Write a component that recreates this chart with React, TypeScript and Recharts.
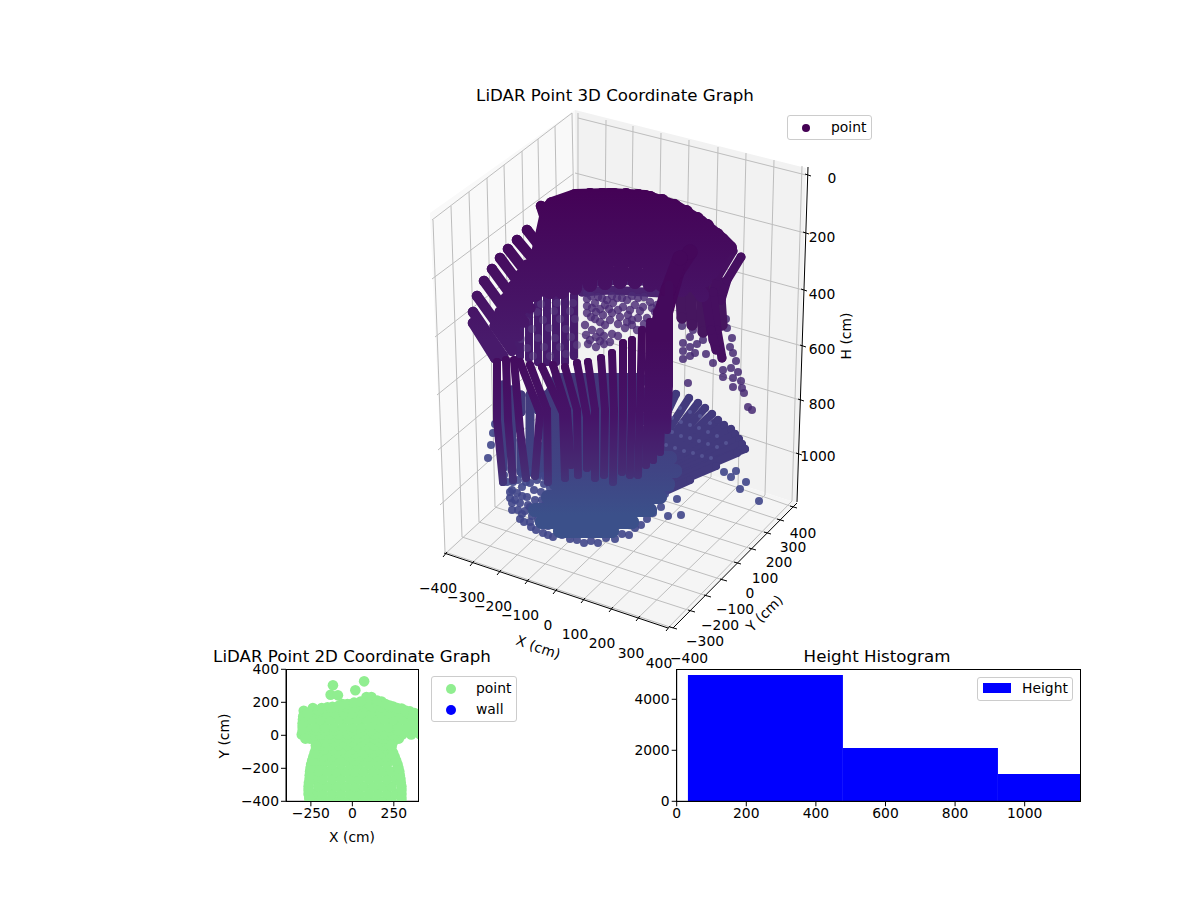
import React from 'react';
import { ScatterChart, Scatter, XAxis, YAxis, ReferenceLine, ReferenceArea, BarChart, Bar } from 'recharts';

type P = [number, number];
const FONT = '"DejaVu Sans", sans-serif';

/* ---------- 3D panel: values are view-plane readings of the projected cloud ---------- */
const paneLeft: P[] = [[430, 213], [575, 110], [578, 432], [445, 552]];
const paneBack: P[] = [[575, 110], [806, 168], [797, 503], [578, 432]];
const paneFloor: P[] = [[445, 552], [578, 432], [797, 503], [670, 630]];

const gridLeftWallV: number[][] = [[433,220,445,552],[451,206,462,537],[469,192,479,522],[487,178,495,507],[504,165,512,492],[522,151,528,478],[538,139,544,463],[555,126,561,448],[572,113,578,432]];
const gridBackWallV: number[][] = [[578,113,578,432],[606,120,603,441],[633,126,629,450],[661,133,656,459],[689,140,683,468],[718,147,711,477],[746,153,738,486],[774,160,765,495],[802,166,792,501]];
const gridLeftWallH: number[][] = [[432,220,572,113],[432,279,573,174],[435,337,575,228],[437,395,576,283],[438,450,577,333],[440,505,578,381]];
const gridBackWallH: number[][] = [[578,118,806,175],[575,173,805,233],[575,228,803,290],[577,283,802,346],[578,333,800,400],[578,381,798,454]];
const gridFloorA: number[][] = [[445,554,578,432],[472,563,603,441],[499,572,629,450],[527,581,656,459],[555,591,683,468],[583,600,711,477],[611,609,738,486],[638,618,765,495],[668,628,792,501]];
const gridFloorB: number[][] = [[445,552,673,628],[462,537,691,611],[479,522,707,596],[495,507,723,580],[512,492,737,563],[528,478,752,549],[544,463,767,533],[561,448,780,520],[578,432,793,507]];

const axisX: number[] = [444, 553, 668, 628];
const axisY: number[] = [673, 628, 797, 503];
const axisH: number[] = [808, 167, 797, 502];
const ticksXAt: P[] = [[445,554],[472,563],[499,572],[527,581],[555,591],[583,600],[611,609],[638,618],[668,628]];
const ticksYAt: P[] = [[673,628],[691,611],[707,596],[723,580],[737,563],[752,549],[767,533],[780,520],[793,507]];
const ticksHAt: P[] = [[807,175],[805,233],[803,290],[802,346],[800,400],[798,454]];

const backWallBand: P[][] = [
  [[578,284],[620,280],[680,283]],
  [[582,292],[610,290],[660,293]],
];
const leftWallStrips: P[][] = [
  [[512,310],[512,352]],
  [[520,296],[520,356]],
  [[529,296],[529,358]],
  [[538,296],[538,362]],
  [[547,296],[547,362]],
  [[556,296],[556,362]],
  [[565,296],[565,362]],
  [[574,296],[574,356]],
];
const leftWallDots: P[] = [[525,305],[541,304],[557,303],[573,303],[521,313],[537,312],[554,311],[570,311],[526,321],[543,320],[560,319],[575,319],[515,331],[532,329],[549,328],[566,329],[521,339],[538,338],[555,338],[571,337],[527,348],[544,347],[560,347],[577,345],[533,356],[550,356],[566,354]];
const backWallDots: P[] = [[587,293],[587,299],[598,297],[607,300],[617,298],[627,300],[638,298],[650,302],[587,306],[595,303],[605,305],[613,303],[623,307],[635,305],[643,307],[657,305],[587,313],[596,312],[603,315],[612,313],[620,317],[628,315],[638,318],[647,318],[585,325],[595,319],[605,325],[592,330],[600,332],[627,322],[625,328],[637,330],[586,335],[596,337],[604,336],[612,334],[618,336],[588,344],[596,347],[604,344],[655,312],[650,325],[660,318],
  [591,296],[602,298],[612,296],[622,298],[632,296],[644,297],[592,308],[600,309],[609,309],[618,310],[630,310],[640,311],[652,308],[591,317],[600,322],[610,320],[618,324],[632,320],[644,324],[655,322],[590,340],[600,341],[610,342],[632,325],[642,330]];
const rightWallDots: P[] = [[682,326],[693,330],[690,337],[683,343],[690,347],[683,351],[683,359],[690,356],[695,353],[697,344],[703,340],[706,354],[713,363],[723,377],[723,370],[731,368],[733,378],[738,372],[741,381],[742,388],[744,393],[733,387],[748,407],[752,410],[688,383],[736,361],[733,353],[730,347],[732,338],[727,328],[726,319]];
const rightWallFill: P[][] = [
  [[680,270],[682,318]],
  [[690,268],[692,325]],
  [[700,268],[703,332]],
  [[710,272],[714,340]],
  [[719,282],[722,325]],
];
const rightWallStrips: P[][] = [
  [[741,257],[727,280],[721,300]],
  [[733,251],[718,276],[712,300]],
  [[723,243],[708,265],[702,290]],
  [[713,292],[717,330],[722,358]],
  [[704,287],[711,330],[716,350]],
];

const domeCols: P[][] = [
  [[548,208],[530,290]],
  [[558,204],[540,290]],
  [[568,200],[550,292]],
  [[578,197],[562,292]],
  [[590,195],[575,288]],
  [[602,195],[590,285]],
  [[614,195],[605,283]],
  [[626,195],[620,282]],
  [[638,196],[635,282]],
  [[650,198],[650,285]],
  [[662,201],[662,285]],
  [[674,206],[672,290]],
  [[686,212],[682,290]],
  [[697,219],[690,285]],
  [[707,226],[697,280]],
  [[717,235],[705,280]],
  [[727,246],[712,272]],
];
const domeRows: P[][] = [
  [[552,204],[575,196],[610,195],[645,197],[675,207],[700,222],[722,240],[730,248]],
  [[548,222],[575,208],[610,207],[660,211],[695,232],[715,252]],
  [[548,235],[610,220],[665,225],[700,250]],
  [[548,250],[610,233],[675,238],[705,265]],
  [[545,265],[610,246],[680,252],[705,280]],
  [[540,278],[610,259],[680,265],[702,295]],
  [[535,291],[600,272],[685,280]],
];
const finUnder: P[][] = [
  [[495,326],[512,350]],
  [[500,312],[518,336]],
  [[506,298],[524,322]],
  [[513,286],[530,308]],
  [[520,275],[536,296]],
  [[527,265],[542,284]],
  [[535,254],[548,270]],
];
const domeFins: P[][] = [
  [[473,323],[495,358]],
  [[473,312],[503,356]],
  [[477,296],[510,342]],
  [[484,281],[516,325]],
  [[492,269],[522,310]],
  [[500,258],[530,298]],
  [[508,249],[536,285]],
  [[517,240],[544,272]],
  [[527,230],[552,262]],
  [[541,206],[552,240]],
];
const rightBand: P[][] = [
  [[690,252],[677,272],[662,325]],
  [[680,258],[668,290],[655,335]],
];

const backSkirtRows: P[][] = [
  [[558,380],[640,380]],
  [[552,393],[640,393]],
  [[550,406],[640,406]],
  [[552,419],[640,419]],
  [[556,432],[640,432]],
  [[560,445],[640,445]],
];
const leftSkirtStrips: P[][] = [
  [[503,385],[503,468]],
  [[512,390],[512,470]],
  [[521,395],[521,412]],
  [[521,440],[521,472]],
  [[530,395],[530,472]],
  [[538,400],[538,410]],
  [[538,445],[538,474]],
  [[546,395],[546,476]],
  [[555,395],[555,476]],
];
const bowlRows: P[][] = [
  [[556,458],[670,458]],
  [[554,471],[675,471]],
  [[556,484],[668,484]],
  [[548,497],[660,497]],
  [[535,510],[650,510]],
  [[542,522],[632,522]],
  [[560,531],[612,531]],
];
const fanStrips: P[][] = [
  [[640,470],[676,394]],
  [[642,471],[689,398]],
  [[645,472],[698,403]],
  [[646,473],[705,408]],
  [[648,474],[712,414]],
  [[649,475],[718,420]],
  [[650,476],[724,425]],
  [[652,478],[731,429]],
  [[653,479],[735,434]],
  [[654,480],[739,439]],
  [[655,482],[742,444]],
  [[656,484],[745,449]],
  [[650,490],[737,453]],
  [[650,494],[716,466]],
  [[650,498],[690,480]],
];
const fanLightDots: P[] = [[672,418],[681,422],[690,425],[699,428],[708,432],[717,436],[672,432],[681,436],[690,438],[699,441],[708,444],[717,447],[726,443],[666,445],[675,448],[684,451],[693,453],[702,456],[711,458],[670,405],[680,408],[690,412],[700,416],[710,423]];
const floorDots: P[] = [[488,458],[491,445],[493,433],[495,424],[504,475],[512,510],[510,498],[510,492],[520,519],[531,527],[543,533],[553,537],[570,539],[584,543],[598,543],[615,539],[629,535],[641,525],[653,513],[668,516],[681,515],[677,499],[661,507],[665,494],[670,488],[740,489],[759,501],[746,482],[731,477],[736,471],[724,472],[513,482],[518,480],[512,490],[517,493],[522,487],[530,483],[537,480],[527,497],[520,503],[530,507],[536,530],[548,535],[562,535],[577,540],[591,541],[606,538],[622,534],[635,528],[647,519],[524,522],[522,474],[532,472],[543,476],[550,488],[541,492],[535,500],[525,511],[518,510],[532,516],
  [507,482],[526,482],[534,490],[544,484],[522,496],[515,500],[542,500],[528,505],[537,510],[545,505],[522,514],[512,503],[538,520],[530,522],[546,514],[548,526],[556,492]];

const frontColumns: P[][] = [
  [[497,362],[497,420],[503,482]],
  [[506,360],[508,420],[513,480]],
  [[514,360],[520,430],[526,478]],
  [[520,362],[540,413],[535,476]],
  [[530,365],[547,410],[548,482]],
  [[542,367],[563,413],[565,478]],
  [[553,365],[567,410],[571,465]],
  [[565,367],[577,410],[578,475]],
  [[577,363],[587,417],[587,468]],
  [[588,362],[595,410],[595,478]],
  [[601,358],[605,410],[604,475]],
  [[612,353],[614,410],[613,482]],
  [[623,343],[623,410],[622,472]],
  [[632,340],[632,410],[630,475]],
  [[642,330],[640,410],[638,475]],
  [[650,322],[648,400],[646,465]],
  [[657,312],[655,400],[653,460]],
  [[663,300],[662,400],[660,452]],
  [[669,285],[669,385],[667,430]],
];

/* ---------- 2D panel ---------- */
const pointRows: [number, number[]][] = [
  [-400, [-258,-205,-150,-95,-40,15,70,125,180,235,296]],
  [-355, [-264,-230,-178,-122,-68,-12,42,98,152,208,262,296]],
  [-310, [-264,-205,-150,-95,-40,15,70,125,180,235,296]],
  [-265, [-258,-230,-178,-122,-68,-12,42,98,152,208,262,290]],
  [-220, [-255,-205,-150,-95,-40,15,70,125,180,235,283]],
  [-175, [-248,-215,-178,-122,-68,-12,42,98,152,208,272]],
  [-152, [-190,-150,-95,-40,15,70,125,180,235]],
  [-130, [-235,-180,-125,-70,-15,40,95,150,205,255]],
  [-108, [-205,-150,-95,-40,15,70,125,180,225]],
  [-85, [-220,-170,-115,-60,-5,50,105,160,210,235]],
  [-62, [-190,-140,-85,-30,25,80,135,190,230]],
  [-40, [-218,-165,-110,-55,0,55,110,165,215,245]],
  [-20, [-255,-195,-140,-85,-30,25,80,135,190,245,280]],
  [5, [-305,-250,-195,-140,-85,-30,25,80,135,190,245,300,355,410]],
  [28, [-275,-220,-165,-110,-55,0,55,110,165,220,275,330,385,430]],
  [50, [-300,-275,-220,-165,-110,-55,0,55,110,165,220,275,330,385,430]],
  [95, [-298,-245,-190,-135,-80,-25,30,85,140,195,250,305,360,415]],
  [135, [-262,-215,-160,-105,-50,5,60,115,170,225,280,335,375]],
  [170, [-150,-95,-40,15,70,125,180,225]],
  [190, [-60,-5,50,100,150]],
  [232, [85,115]],
];
const pointExtras: P[] = [[-117,303],[71,327],[-131,246],[-87,242],[18,273],[-293,149],[-238,165],[176,205],[246,175],[297,162],[347,145],[388,121],
  [-260,-380],[-264,-332],[-262,-288],[-257,-242],[-252,-198],[-242,-152],[-228,-108],[-220,-62],[-300,28],[-300,72],[-296,115],
  [296,-380],[296,-332],[292,-288],[286,-242],[278,-198],[264,-152],[246,-108],[238,-62],
  [-205,150],[-120,172],[-80,180],[-30,190],[10,198],[50,205],[150,210],[200,190],[225,180],[270,165],[320,150],[370,130],[-270,130],[-185,165],[-283,-20]];
const xy2d = [
  ...pointRows.flatMap(([y, xs]) => xs.map((x) => ({ x, y }))),
  ...pointExtras.map(([x, y]) => ({ x, y })),
];
const ticks2dX = [-250, 0, 250];
const ticks2dY = [-400, -200, 0, 200, 400];

/* ---------- histogram ---------- */
const binCentres = [255, 700.5, 1146];
const binCounts = [4953, 2090, 1070];
const histData = binCentres.map((c, i) => ({ c, n: binCounts[i] }));
const histTicksX = [0, 200, 400, 600, 800, 1000];
const histTicksY = [0, 2000, 4000];

const labelsX = ['−400','−300','−200','−100','0','100','200','300','400'];
const labelsXAt: P[] = [[438,588],[466,597],[493,606],[520,615],[548,625],[575,634],[602,643],[631,653],[659,663]];
const labelsY = ['400','300','200','100','0','−100','−200','−300','−400'];
const labelsYAt: P[] = [[803,533],[793,547],[779,562],[765,578],[750,593],[735,609],[720,625],[705,641],[689,658]];
const labelsH = ['0','200','400','600','800','1000'];
const labelsHAt: P[] = [[832,178],[822,237],[822,294],[822,349],[822,404],[818,456]];

const toPts = (a: P[]) => a.map(([x, y]) => ({ x, y }));
const minus = (v: number) => String(v).replace('-', '−');

const T = ({ x, y, s = 13.89, r = 0, left = false, children }: any) => (
  <div style={{ position: 'absolute', left: x, top: y + 1, fontSize: s, lineHeight: 1, whiteSpace: 'nowrap', color: '#000',
    transform: `translate(${left ? '0' : '-50%'},-50%) rotate(${r}deg)` }}>{children}</div>
);
const Box = ({ l, t, r, b }: any) => (
  <div style={{ position: 'absolute', left: l, top: t, width: r - l, height: b - t, boxSizing: 'border-box', background: 'rgba(255,255,255,0.8)', border: '1px solid #ccc', borderRadius: 3 }} />
);
const Dot = ({ x, y, r, c }: any) => (
  <div style={{ position: 'absolute', left: x - r, top: y - r, width: 2 * r, height: 2 * r, borderRadius: '50%', background: c }} />
);
const Frame = ({ l, t, r, b }: any) => (
  <div style={{ position: 'absolute', left: l, top: t, width: r - l, height: b - t, boxSizing: 'border-box', border: '1px solid #000', pointerEvents: 'none' }} />
);

const pane = (poly: P[], fill: string, key: string) => {
  const xs = poly.map((p) => p[0]);
  const ys = poly.map((p) => p[1]);
  const x1 = Math.min(...xs), x2 = Math.max(...xs), y1 = Math.min(...ys), y2 = Math.max(...ys);
  return (
    <ReferenceArea key={key} x1={x1} x2={x2} y1={y1} y2={y2} ifOverflow="visible"
      shape={(p: any) => {
        const pts = poly.map(([a, b]) => `${p.x + ((a - x1) / (x2 - x1)) * p.width},${p.y + ((b - y1) / (y2 - y1)) * p.height}`).join(' ');
        return <polygon points={pts} fill={fill} stroke="none" />;
      }} />
  );
};
const seg = (s: number[], stroke: string, w: number, key: string) => (
  <ReferenceLine key={key} ifOverflow="visible" stroke={stroke} strokeWidth={w}
    segment={[{ x: s[0], y: s[1] }, { x: s[2], y: s[3] }]} />
);
const strip = (pts: P[], w: number, fill: string, key: string) => (
  <Scatter key={key} data={toPts(pts)} fill={fill} isAnimationActive={false}
    line={{ stroke: fill, strokeWidth: w, strokeLinecap: 'round', strokeLinejoin: 'round' }}
    shape={(p: any) => <circle cx={p.cx} cy={p.cy} r={w / 2} fill={fill} />} />
);
const dots = (pts: P[], r: number, fill: string, op: number, key: string) => (
  <Scatter key={key} data={toPts(pts)} isAnimationActive={false} fill={fill}
    shape={(p: any) => <circle cx={p.cx} cy={p.cy} r={r} fill={fill} fillOpacity={op} />} />
);

export default function App() {
  return (
    <div style={{ position: 'absolute', left: 0, top: 0, width: 1200, height: 900, background: '#fff', overflow: 'hidden', fontFamily: FONT }}>
      <div style={{ position: 'absolute', left: 0, top: 0 }}>
        <ScatterChart width={1200} height={900} margin={{ top: 0, right: 0, bottom: 0, left: 0 }}>
          <defs>
            <linearGradient id="domeG" gradientUnits="userSpaceOnUse" x1="0" y1="190" x2="0" y2="340">
              <stop offset="0" stopColor="#440256" />
              <stop offset="1" stopColor="#481a6b" />
            </linearGradient>
            <linearGradient id="colG" gradientUnits="userSpaceOnUse" x1="0" y1="340" x2="0" y2="510">
              <stop offset="0" stopColor="#440a5c" />
              <stop offset="0.45" stopColor="#461468" />
              <stop offset="0.75" stopColor="#462a72" />
              <stop offset="1" stopColor="#3e4686" />
            </linearGradient>
            <linearGradient id="floorG" gradientUnits="userSpaceOnUse" x1="0" y1="380" x2="0" y2="515">
              <stop offset="0" stopColor="#43377a" />
              <stop offset="0.67" stopColor="#404484" />
              <stop offset="1" stopColor="#3b508a" />
            </linearGradient>
          </defs>
          <XAxis type="number" dataKey="x" domain={[0, 1200]} hide />
          <YAxis type="number" dataKey="y" domain={[0, 900]} reversed hide />
          {pane(paneLeft, '#f9f9f9', 'pl')}
          {pane(paneBack, '#f2f2f2', 'pb')}
          {pane(paneFloor, '#f5f5f5', 'pf')}
          {[...gridLeftWallV, ...gridBackWallV, ...gridLeftWallH, ...gridBackWallH, ...gridFloorA, ...gridFloorB].map((s, i) => seg(s, '#bdbdbd', 1, `g${i}`))}
          {seg(axisX, '#000', 1, 'ax')}
          {seg(axisY, '#000', 1, 'ay')}
          {seg(axisH, '#000', 1, 'ah')}
          {ticksXAt.map(([x, y], i) => seg([x - 2, y + 3, x + 2, y - 2], '#000', 1, `tx${i}`))}
          {ticksYAt.map(([x, y], i) => seg([x - 3, y - 1, x + 4, y + 1], '#000', 1, `ty${i}`))}
          {ticksHAt.map(([x, y], i) => seg([x - 2, y - 1, x + 4, y + 1], '#000', 1, `th${i}`))}

          {backWallBand.map((s, i) => strip(s, 9, '#4a2470', `bb${i}`))}
          {leftWallStrips.map((s, i) => strip(s, 8, '#471c6c', `ls${i}`))}
          {dots(leftWallDots, 4, '#5a3f82', 0.55, 'lwd')}
          {dots(backWallDots, 4.2, '#4b2b75', 0.82, 'bwd')}
          {dots(rightWallDots, 4, '#472a73', 0.85, 'rwd')}
          {rightWallFill.map((s, i) => strip(s, 11, '#46165f', `rf${i}`))}
          {rightWallStrips.map((s, i) => strip(s, 9, '#460f60', `rw${i}`))}
          {domeCols.map((s, i) => strip(s, 14, 'url(#domeG)', `dc${i}`))}
          {domeRows.map((s, i) => strip(s, 14, 'url(#domeG)', `dr${i}`))}
          {finUnder.map((s, i) => strip(s, 11, 'url(#domeG)', `fu${i}`))}
          {domeFins.map((s, i) => strip(s, 10.5, 'url(#domeG)', `df${i}`))}
          {rightBand.map((s, i) => strip(s, 15, '#45085b', `rb${i}`))}
          {leftSkirtStrips.map((s, i) => strip(s, 9, 'url(#floorG)', `lr${i}`))}
          {backSkirtRows.map((s, i) => strip(s, 14, 'url(#floorG)', `bs${i}`))}
          {fanStrips.map((s, i) => strip(s, 8, '#423a7d', `fa${i}`))}
          {dots(fanLightDots, 2, '#5d5f9c', 0.7, 'fld')}
          {dots(floorDots, 4, '#40468a', 0.9, 'fd')}
          {bowlRows.map((s, i) => strip(s, 14, 'url(#floorG)', `br${i}`))}
          {frontColumns.map((s, i) => strip(s, 8, 'url(#colG)', `fc${i}`))}
        </ScatterChart>
      </div>

      <div style={{ position: 'absolute', left: 200, top: 650 }}>
        <ScatterChart width={230} height={180} margin={{ top: 19.3, right: 11.3, bottom: 0, left: 0 }}>
          <XAxis type="number" dataKey="x" domain={[-400, 400]} ticks={ticks2dX} allowDataOverflow height={28.7} stroke="#000"
            tick={{ fill: '#000', fontSize: 13.89 }} tickSize={5} tickFormatter={minus} interval={0} />
          <YAxis type="number" dataKey="y" domain={[-400, 400]} ticks={ticks2dY} allowDataOverflow width={86} stroke="#000"
            tick={{ fill: '#000', fontSize: 13.89 }} tickSize={5} tickFormatter={minus} interval={0} />
          <Scatter name="point" data={xy2d} fill="#90ee90" isAnimationActive={false}
            shape={(p: any) => <circle cx={p.cx} cy={p.cy} r={5.3} fill="#90ee90" />} />
          <Scatter name="wall" data={[]} fill="#0000ff" isAnimationActive={false} />
        </ScatterChart>
      </div>
      <Frame l={286} t={669} r={419} b={802} />

      <div style={{ position: 'absolute', left: 620, top: 650 }}>
        <BarChart width={470} height={180} data={histData} margin={{ top: 19.3, right: 9.3, bottom: 0, left: 0 }} barCategoryGap={0}>
          <XAxis type="number" dataKey="c" domain={[0, 1161]} ticks={histTicksX} allowDataOverflow height={28.7} stroke="#000"
            tick={{ fill: '#000', fontSize: 13.89 }} tickSize={5} interval={0} />
          <YAxis type="number" domain={[0, 5176]} ticks={histTicksY} width={56.7} stroke="#000"
            tick={{ fill: '#000', fontSize: 13.89 }} tickSize={5} interval={0} />
          <Bar dataKey="n" fill="#0000ff" barSize={155} isAnimationActive={false} />
        </BarChart>
      </div>
      <Frame l={676} t={669} r={1081} b={802} />

      <T x={615} y={95} s={16.67}>LiDAR Point 3D Coordinate Graph</T>
      <T x={352} y={656} s={16.67}>LiDAR Point 2D Coordinate Graph</T>
      <T x={877} y={656} s={16.67}>Height Histogram</T>
      {labelsX.map((t, i) => <T key={`lx${i}`} x={labelsXAt[i][0]} y={labelsXAt[i][1]}>{t}</T>)}
      {labelsY.map((t, i) => <T key={`ly${i}`} x={labelsYAt[i][0]} y={labelsYAt[i][1]}>{t}</T>)}
      {labelsH.map((t, i) => <T key={`lh${i}`} x={labelsHAt[i][0]} y={labelsHAt[i][1]}>{t}</T>)}
      <T x={538} y={647} r={19}>X (cm)</T>
      <T x={765} y={613} r={-45}>Y (cm)</T>
      <T x={847} y={335} r={-90}>H (cm)</T>
      <T x={352} y={837}>X (cm)</T>
      <T x={225} y={735} r={-90}>Y (cm)</T>

      <Box l={787} t={115} r={872} b={140} />
      <Dot x={806} y={128} r={4} c="#440154" />
      <T x={831} y={127} left>point</T>

      <Box l={431} t={676} r={517} b={722} />
      <Dot x={451} y={689} r={5} c="#90ee90" />
      <Dot x={451} y={710} r={5} c="#0000ff" />
      <T x={476} y={688} left>point</T>
      <T x={476} y={709} left>wall</T>

      <Box l={977} t={677} r={1073} b={701} />
      <div style={{ position: 'absolute', left: 983, top: 683, width: 28, height: 10, background: '#0000ff' }} />
      <T x={1022} y={688} left>Height</T>
    </div>
  );
}
